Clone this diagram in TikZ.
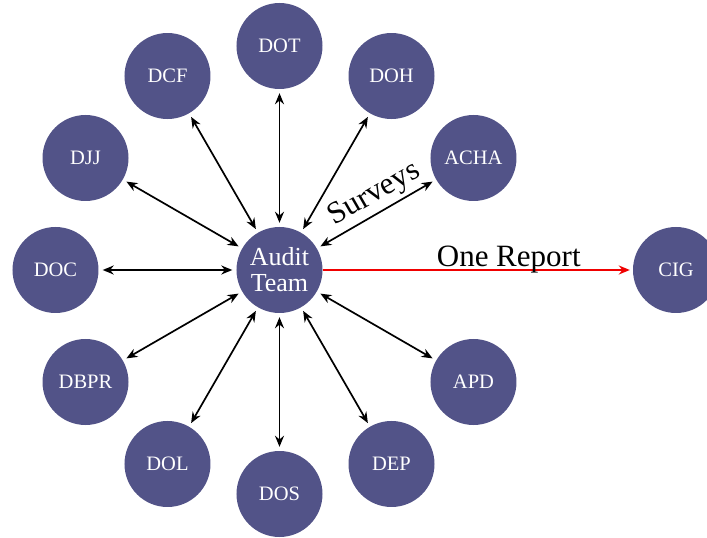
\documentclass[tikz,border=0pt]{standalone}
\usepackage{fontspec}
\setmainfont{Liberation Serif}
\usetikzlibrary{arrows.meta}
\definecolor{AuditBlue}{HTML}{525388}
\definecolor{ReportRed}{HTML}{F00000}

\begin{document}
\begin{tikzpicture}[x=1pt,y=1pt,
    agency/.style={circle,fill=AuditBlue,minimum size=86pt,inner sep=0pt,text=white,font=\fontsize{20.5}{22}\selectfont},
    link/.style={{Stealth[length=11pt,width=9pt]}-{Stealth[length=11pt,width=9pt]},line width=1.7pt,shorten <=4pt,shorten >=4pt},
    report/.style={-{Stealth[length=11pt,width=9pt]},line width=2pt,ReportRed,shorten >=3pt}
  ]
    \useasboundingbox (-279.5,-268) rectangle (427.5,270);
    \node[agency,align=center,font=\fontsize{26}{26}\selectfont] (team) at (0,0) {Audit\\Team};
    \node[agency] (dot) at (90:224) {DOT};
    \node[agency] (doh) at (60:224) {DOH};
    \node[agency] (acha) at (30:224) {ACHA};
    \node[agency] (apd) at (-30:224) {APD};
    \node[agency] (dep) at (-60:224) {DEP};
    \node[agency] (dos) at (-90:224) {DOS};
    \node[agency] (dol) at (-120:224) {DOL};
    \node[agency] (dbpr) at (-150:224) {DBPR};
    \node[agency] (doc) at (180:224) {DOC};
    \node[agency] (djj) at (150:224) {DJJ};
    \node[agency] (dcf) at (120:224) {DCF};
    \node[agency] (cig) at (396.5,0) {CIG};
    % survey links
    \draw[link] (team) -- (dot);
    \draw[link] (team) -- (doh);
    \draw[link] (team) -- node[pos=0.56,sloped,above=0pt,font=\fontsize{31}{32}\selectfont]{Surveys} (acha);
    \draw[link] (team) -- (apd);
    \draw[link] (team) -- (dep);
    \draw[link] (team) -- (dos);
    \draw[link] (team) -- (dol);
    \draw[link] (team) -- (dbpr);
    \draw[link] (team) -- (doc);
    \draw[link] (team) -- (djj);
    \draw[link] (team) -- (dcf);
    % the one report
    \draw[report] (team) -- node[pos=0.6,anchor=base,yshift=3pt,text=black,font=\fontsize{31}{32}\selectfont]{One Report} (cig);
\end{tikzpicture}
\end{document}
